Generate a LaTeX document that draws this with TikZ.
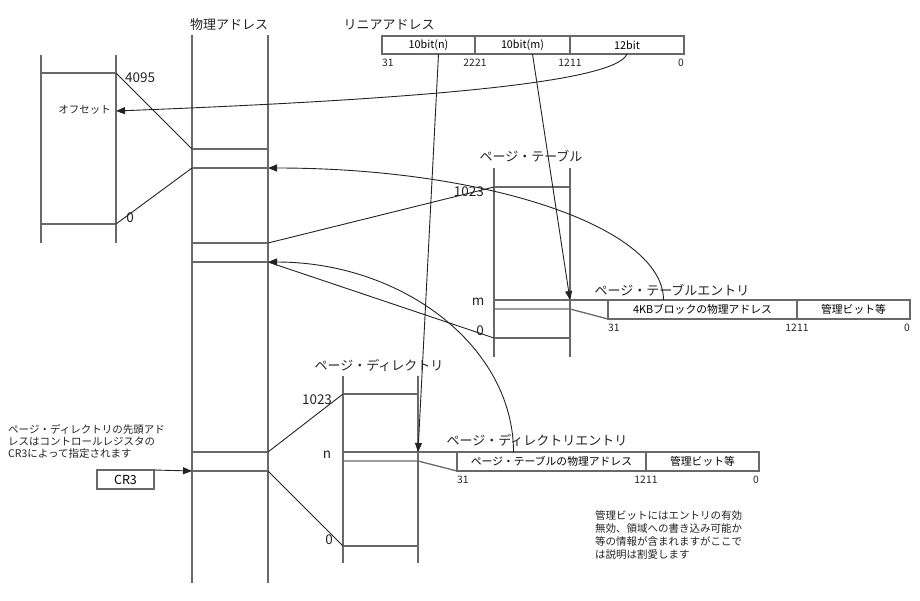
\documentclass[tikz,border=0pt]{standalone}
\usepackage{fontspec}
\setmainfont{Noto Sans CJK JP}
\usetikzlibrary{arrows.meta,positioning}
\definecolor{lgray}{RGB}{105,105,105}
\definecolor{dgray}{RGB}{35,35,35}

\tikzset{
  col/.style={draw=lgray,line width=1.3pt},
  con/.style={draw=dgray,line width=0.9pt},
  arr/.style={con,-{Triangle[length=9pt,width=7pt]}},
  fld/.style={draw=lgray,line width=1.2pt,anchor=north west,outer sep=0pt,inner sep=0pt,
    minimum height=19pt,font=\fontsize{10.8}{10.8}\selectfont},
  ttl/.style={font=\fontsize{13}{13}\selectfont,inner sep=0pt,text=dgray},
  num/.style={font=\fontsize{13.5}{13.5}\selectfont,inner sep=0pt,text=dgray},
  bit/.style={font=\fontsize{10.3}{10.3}\selectfont,inner sep=0pt,text=dgray},
  memo/.style={font=\fontsize{10.5}{#1}\selectfont,align=left,anchor=north west,inner sep=0pt,text=dgray}
}

\begin{document}
\begin{tikzpicture}[x=1pt,y=-1pt]
  \useasboundingbox (0,0) rectangle (920,600);

  % physical memory
  \node[ttl] (patitle) at (229,25) {物理アドレス};
  \draw[col] (192,35) -- (192,583) (268,35) -- (268,583);
  \foreach \y [count=\i] in {149,168,243,262,452,471}
    \draw[col] (192,\y) coordinate (pl\i) -- (268,\y) coordinate (pr\i);

  % page frame
  \draw[col] (41,55) -- (41,243) (116,55) -- (116,243);
  \draw[col] (41,73) -- (116,73) coordinate (of1);
  \draw[col] (41,224) -- (116,224) coordinate (of2);
  \node[num,anchor=west] (v4095) at (125,78) {4095};
  \node[num] (vofs0) at (130,218) {0};
  \node[memo=10.5,anchor=east] (offset) at (111,110) {オフセット};
  \coordinate (ofs) at (116,111);

  % linear address
  \node[ttl] (latitle) at (389,25) {リニアアドレス};
  \node[fld,minimum height=18pt,minimum width=93pt] (ln) at (382,36) {10bit(n)};
  \node[fld,minimum height=18pt,minimum width=95pt] (lm) at (ln.north east) {10bit(m)};
  \node[fld,minimum height=18pt,minimum width=114pt] (lo) at (lm.north east) {12bit};
  \node[bit,below right=4.5pt and 0pt of ln.south west] (lb31) {31};
  \node[bit,below left=4.5pt and 0pt of ln.south east] (lb22) {22};
  \node[bit,below right=4.5pt and 0pt of lm.south west] (lb21) {21};
  \node[bit,below left=4.5pt and 0pt of lm.south east] (lb12) {12};
  \node[bit,below right=4.5pt and 0pt of lo.south west] (lb11) {11};
  \node[bit,below left=4.5pt and 0pt of lo.south east] (lb0) {0};

  % page table
  \node[ttl] (pttitle) at (531,156) {ページ・テーブル};
  \draw[col] (494,168) -- (494,357) (570,168) -- (570,357);
  \node[fld,minimum width=189pt] (pteA) at (608,300) {4KBブロックの物理アドレス};
  \node[fld,minimum width=113pt] (pteB) at (pteA.north east) {管理ビット等};
  \draw[col] (494,187) coordinate (pt1) -- (570,187);
  \draw[col] (494,300) -- (pteA.north west);
  \draw[col] (494,309) -- (570,309) -- (pteA.south west);
  \draw[col] (494,338) coordinate (pt0) -- (570,338);
  \coordinate (ptm) at (570,300);
  \node[num,anchor=east] (vpt1023) at (484,192) {1023};
  \node[num] (vptm) at (478,302) {m};
  \node[num] (vpt0) at (480,331) {0};
  \node[ttl] (ptetitle) at (672,290) {ページ・テーブルエントリ};
  \node[bit,below right=4.5pt and 0pt of pteA.south west] (pb31) {31};
  \node[bit,below left=4.5pt and 0pt of pteA.south east] (pb12) {12};
  \node[bit,below right=4.5pt and 0pt of pteB.south west] (pb11) {11};
  \node[bit,below left=4.5pt and 0pt of pteB.south east] (pb0) {0};

  % page directory
  \node[ttl] (pdtitle) at (379,365) {ページ・ディレクトリ};
  \draw[col] (343,376) -- (343,563) (418,376) -- (418,563);
  \node[fld,minimum width=189pt] (pdeA) at (457,452) {ページ・テーブルの物理アドレス};
  \node[fld,minimum width=113pt] (pdeB) at (pdeA.north east) {管理ビット等};
  \draw[col] (343,394) coordinate (pd1) -- (418,394);
  \draw[col] (343,452) -- (pdeA.north west);
  \draw[col] (343,461) -- (418,461) -- (pdeA.south west);
  \draw[col] (343,546) coordinate (pd0) -- (418,546);
  \coordinate (pdn) at (418,452);
  \node[num] (vpd1023) at (317,400) {1023};
  \node[num] (vpdn) at (327,455) {n};
  \node[num] (vpd0) at (329,540) {0};
  \node[ttl] (pdetitle) at (537,440) {ページ・ディレクトリエントリ};
  \node[bit,below right=4.5pt and 0pt of pdeA.south west] (db31) {31};
  \node[bit,below left=4.5pt and 0pt of pdeA.south east] (db12) {12};
  \node[bit,below right=4.5pt and 0pt of pdeB.south west] (db11) {11};
  \node[bit,below left=4.5pt and 0pt of pdeB.south east] (db0) {0};

  % CR3 and notes
  \node[fld,minimum width=57pt,font=\fontsize{12.5}{12.5}\selectfont] (cr3) at (97,470) {CR3};
  \node[memo=12] (cr3note) at (8,424) {ページ・ディレクトリの先頭アド\\レスはコントロールレジスタの\\CR3によって指定されます};
  \node[memo=13.3] (bitnote) at (595,510) {管理ビットにはエントリの有効\\無効、領域への書き込み可能か\\等の情報が含まれますがここで\\は説明は割愛します};

  % connectors
  \draw[arr] (lo.south) .. controls +(-12,30) and +(284,-11) .. (ofs);
  \draw[arr] ([xshift=10pt]ln.south) -- (pdn);
  \draw[arr] ([xshift=10pt]lm.south) -- (ptm);
  \draw[arr] ([xshift=-39pt]pteA.north) .. controls +(0,-73) and +(218,0) .. (pr2);
  \draw[arr] ([xshift=-38pt]pdeA.north) .. controls +(0,-105) and +(135,0) .. (pr4);
  \draw[con] (of1) -- (pl1);
  \draw[con] (of2) -- (pl2);
  \draw[con] (pt1) -- (pr3);
  \draw[con] (pt0) -- (pr4);
  \draw[con] (pr5) -- (pd1);
  \draw[con] (pr6) -- (pd0);
  \draw[arr] (cr3.north east) -- (pl6);
\end{tikzpicture}
\end{document}
